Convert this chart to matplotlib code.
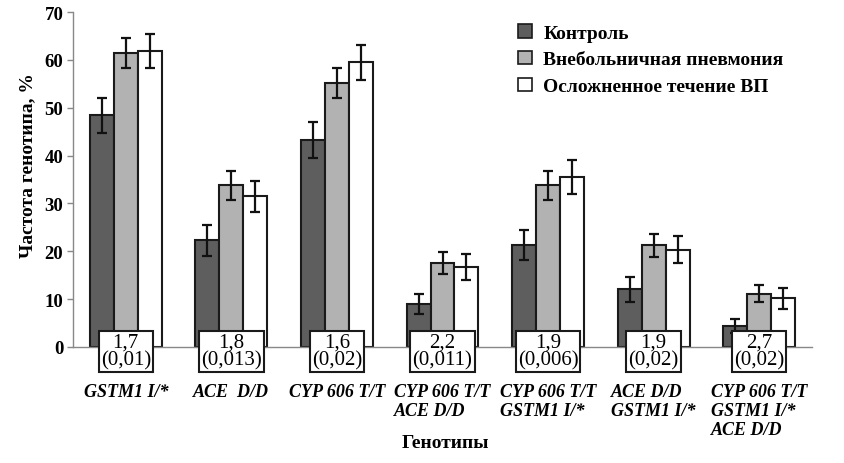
import matplotlib
matplotlib.use('Agg')
import matplotlib.pyplot as plt
from matplotlib.patches import Patch
import numpy as np

categories = ["GSTM1 I/*", "ACE  D/D", "CYP 606 T/T",
              "CYP 606 T/T\nACE D/D", "CYP 606 T/T\nGSTM1 I/*",
              "ACE D/D\nGSTM1 I/*", "CYP 606 T/T\nGSTM1 I/*\nACE D/D"]
control = [48.4, 22.3, 43.2, 9.0, 21.3, 12.1, 4.4]
control_err = [3.7, 3.2, 3.8, 2.1, 3.1, 2.6, 1.5]
pneumonia = [61.4, 33.8, 55.1, 17.5, 33.8, 21.3, 11.1]
pneumonia_err = [3.2, 3.0, 3.1, 2.3, 3.0, 2.4, 1.8]
complicated = [61.8, 31.5, 59.5, 16.7, 35.5, 20.3, 10.2]
complicated_err = [3.6, 3.2, 3.7, 2.7, 3.6, 2.8, 2.2]
odds = ["1,7", "1,8", "1,6", "2,2", "1,9", "1,9", "2,7"]
pvals = ["(0,01)", "(0,013)", "(0,02)", "(0,011)", "(0,006)", "(0,02)", "(0,02)"]
series_names = ["Контроль", "Внебольничная пневмония", "Осложненное течение ВП"]
yticks = [0, 10, 20, 30, 40, 50, 60, 70]

plt.rcParams['font.family'] = ['Liberation Serif', 'DejaVu Serif']

fig = plt.figure(figsize=(8.44, 4.64), dpi=100)
ax = fig.add_axes([73/844, 1-348/464, (812-73)/844, (348-13)/464])

colors = ['#5e5e5e', '#b2b2b2', '#ffffff']
x = np.arange(len(categories))
w = 0.227
data = [(control, control_err), (pneumonia, pneumonia_err), (complicated, complicated_err)]
for i, ((vals, errs), c) in enumerate(zip(data, colors)):
    pos = x + (i - 1) * w
    ax.bar(pos, vals, width=w, color=c, edgecolor='#1a1a1a', linewidth=1.5, zorder=2)
    ax.errorbar(pos, vals, yerr=errs, fmt='none', ecolor='#111111',
                elinewidth=1.6, capsize=3.6, capthick=1.6, zorder=3)

for xi, o, p in zip(x, odds, pvals):
    ax.text(xi, -0.9, o + "\n" + p, ha='center', va='center', fontsize=15,
            linespacing=0.88, zorder=5, clip_on=False,
            bbox=dict(boxstyle='square,pad=0.1', facecolor='white',
                      edgecolor='#1a1a1a', linewidth=1.5))

ax.set_xlim(-0.5, len(categories) - 0.5)
ax.set_ylim(0, 70)
ax.set_yticks(yticks)
ax.set_yticklabels([str(v) for v in yticks], fontsize=13.5, fontweight='bold')
ax.tick_params(axis='y', length=4, width=1, color='#888888', pad=3)
ax.set_xticks(x)
ax.set_xticklabels(categories, fontsize=13, fontweight='bold', style='italic',
                   multialignment='left', linespacing=1.15)
ax.tick_params(axis='x', length=0, pad=26)
for s in ['top', 'right']:
    ax.spines[s].set_visible(False)
ax.spines['left'].set_color('#888888')
ax.spines['bottom'].set_color('#888888')
ax.spines['left'].set_linewidth(1)
ax.spines['bottom'].set_linewidth(1)

fig.text(28/844, 1-166/464, "Частота генотипа, %", rotation=90, ha='center', va='center',
         fontsize=14, fontweight='bold')
fig.text(445/844, 1-444/464, "Генотипы", ha='center', va='center',
         fontsize=14, fontweight='bold')

handles = [Patch(facecolor=c, edgecolor='#1a1a1a', linewidth=1.2) for c in colors]
leg = fig.legend(handles, series_names, loc='upper left', bbox_to_anchor=(518/844, 1-25/464),
                 frameon=False, handlelength=0.7, handleheight=0.7, handletextpad=0.6,
                 labelspacing=0.47, borderpad=0, borderaxespad=0,
                 prop=dict(family=['Liberation Serif'], weight='bold', size=14))

fig.savefig('out.png', dpi=100)
